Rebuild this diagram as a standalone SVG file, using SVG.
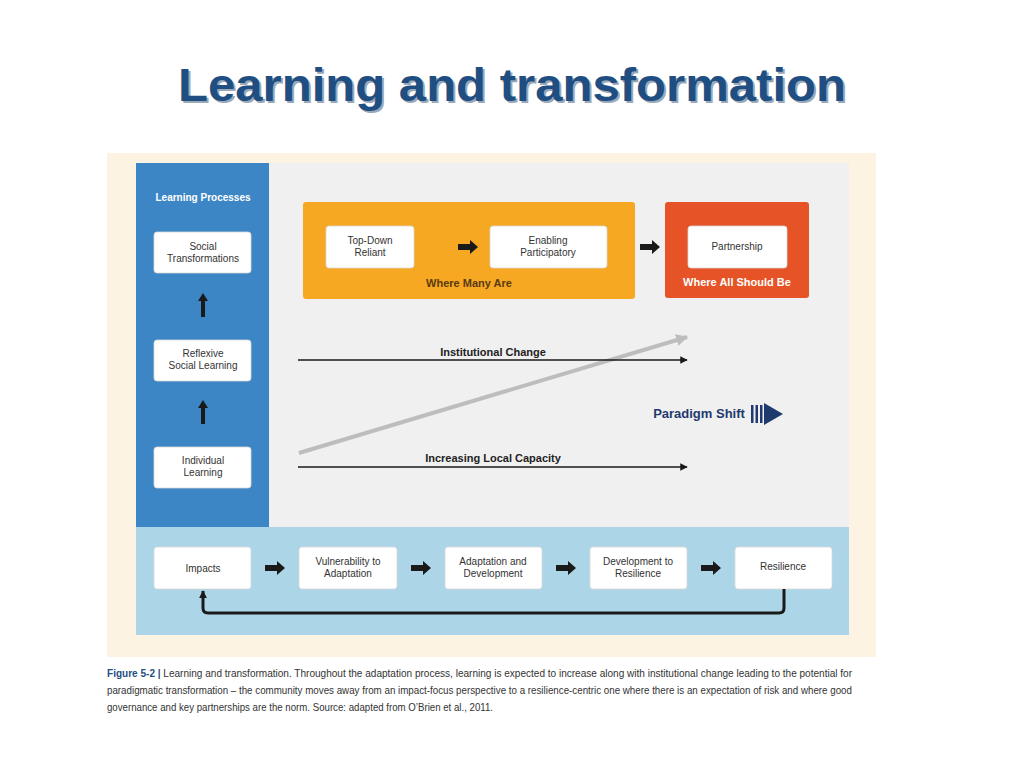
<svg xmlns="http://www.w3.org/2000/svg" width="1024" height="768" viewBox="0 0 1024 768">
<style>
text{font-family:"Liberation Sans",Arial,sans-serif}
.b{fill:#fff;stroke:#d8d8d8;stroke-width:0.8}
.t{font-size:10px;fill:#333;text-anchor:middle}
.blk{fill:#1a1a1a}
.ln{stroke:#1a1a1a;stroke-width:1.5;fill:none}
.cap{font-size:11px;fill:#333}
</style>
<defs>
<marker id="ah" viewBox="0 0 10 10" refX="9" refY="5" markerWidth="5" markerHeight="5" orient="auto"><path d="M0,0L10,5L0,10z" fill="#1a1a1a"/></marker>
<marker id="ah2" viewBox="0 0 10 10" refX="9" refY="5" markerWidth="8" markerHeight="8" markerUnits="userSpaceOnUse" orient="auto"><path d="M0,0L10,5L0,10z" fill="#1a1a1a"/></marker>
<marker id="ag" viewBox="0 0 10 10" refX="9" refY="5" markerWidth="3" markerHeight="3" orient="auto"><path d="M0,0L10,5L0,10z" fill="#bdbdbd"/></marker>
<path id="fat" d="M0,-3H12V-7L20,0L12,7V3H0z"/>
<path id="up" d="M-2,24V8H-5L0,0L5,8H2V24z"/>
</defs>
<rect width="1024" height="768" fill="#fff"/>
<text x="514" y="103" font-size="46" font-weight="bold" fill="#9aa8b8" text-anchor="middle" font-family="Open Sans,Liberation Sans,sans-serif" textLength="668" lengthAdjust="spacingAndGlyphs">Learning and transformation</text>
<text x="512" y="101" font-size="46" font-weight="bold" fill="#1f4e82" text-anchor="middle" font-family="Open Sans,Liberation Sans,sans-serif" textLength="668" lengthAdjust="spacingAndGlyphs">Learning and transformation</text>
<rect x="107" y="153" width="769" height="504" fill="#fdf3e3"/>
<rect x="136" y="163" width="713" height="364" fill="#f0f0f0"/>
<rect x="136" y="163" width="133" height="364" fill="#3d86c6"/>
<rect x="136" y="527" width="713" height="108" fill="#acd6e8"/>
<text x="203" y="201" font-size="10" font-weight="bold" fill="#fff" text-anchor="middle">Learning Processes</text>
<g id="social"><rect class="b" x="154" y="232" width="97" height="41" rx="3"/><text class="t" x="203" y="250">Social</text><text class="t" x="203" y="262">Transformations</text></g>
<g id="reflexive"><rect class="b" x="154" y="340" width="97" height="41" rx="3"/><text class="t" x="203" y="357">Reflexive</text><text class="t" x="203" y="369">Social Learning</text></g>
<g id="individual"><rect class="b" x="154" y="447" width="97" height="41" rx="3"/><text class="t" x="203" y="464">Individual</text><text class="t" x="203" y="476">Learning</text></g>
<g id="where-many"><rect x="303" y="202" width="332" height="97" rx="3" fill="#f7a823"/><text x="469" y="287" font-size="11" font-weight="bold" fill="#5a3a10" text-anchor="middle">Where Many Are</text></g>
<g id="topdown"><rect class="b" x="326" y="226" width="88" height="42" rx="3"/><text class="t" x="370" y="244">Top-Down</text><text class="t" x="370" y="256">Reliant</text></g>
<g id="enabling"><rect class="b" x="490" y="226" width="117" height="42" rx="3"/><text class="t" x="548" y="244">Enabling</text><text class="t" x="548" y="256">Participatory</text></g>
<g id="where-all"><rect x="665" y="202" width="144" height="96" rx="3" fill="#e55326"/><text x="737" y="286" font-size="11" font-weight="bold" fill="#fff" text-anchor="middle">Where All Should Be</text></g>
<g id="partnership"><rect class="b" x="688" y="226" width="99" height="42" rx="3"/><text class="t" x="737" y="250">Partnership</text></g>
<g id="impacts"><rect class="b" x="154" y="547" width="97" height="42" rx="3"/><text class="t" x="203" y="572">Impacts</text></g>
<g id="vuln"><rect class="b" x="299" y="547" width="98" height="42" rx="3"/><text class="t" x="348" y="565">Vulnerability to</text><text class="t" x="348" y="577">Adaptation</text></g>
<g id="adapt"><rect class="b" x="445" y="547" width="97" height="42" rx="3"/><text class="t" x="493" y="565">Adaptation and</text><text class="t" x="493" y="577">Development</text></g>
<g id="dev"><rect class="b" x="590" y="547" width="97" height="42" rx="3"/><text class="t" x="638" y="565">Development to</text><text class="t" x="638" y="577">Resilience</text></g>
<g id="res"><rect class="b" x="735" y="547" width="97" height="42" rx="3"/><text class="t" x="783" y="570">Resilience</text></g>
<g id="connectors">
<use href="#up" x="203" y="293" class="blk"/>
<use href="#up" x="203" y="400" class="blk"/>
<use href="#fat" x="458" y="247" class="blk"/>
<use href="#fat" x="640" y="247" class="blk"/>
<use href="#fat" x="265" y="568" class="blk"/>
<use href="#fat" x="411" y="568" class="blk"/>
<use href="#fat" x="556" y="568" class="blk"/>
<use href="#fat" x="701" y="568" class="blk"/>
<line x1="299" y1="453" x2="687" y2="337" stroke="#bdbdbd" stroke-width="4" marker-end="url(#ag)"/>
<line class="ln" x1="298" y1="360" x2="687" y2="360" marker-end="url(#ah)"/>
<line class="ln" x1="298" y1="467" x2="687" y2="467" marker-end="url(#ah)"/>
<path d="M784,589V608Q784,613 779,613H208Q203,613 203,608V591" stroke="#1a1a1a" stroke-width="3" fill="none" marker-end="url(#ah2)"/>
</g>
<text x="493" y="356" font-size="11" font-weight="bold" fill="#222" text-anchor="middle">Institutional Change</text>
<text x="493" y="462" font-size="11" font-weight="bold" fill="#222" text-anchor="middle">Increasing Local Capacity</text>
<g id="paradigm"><text x="699" y="418" font-size="13" font-weight="bold" fill="#1f3a6e" text-anchor="middle">Paradigm Shift</text>
<rect x="751" y="405" width="2.5" height="18" fill="#1f3a6e"/><rect x="755.5" y="405" width="2.5" height="18" fill="#1f3a6e"/><rect x="760" y="405" width="2.5" height="18" fill="#1f3a6e"/><path d="M764,403L783,414L764,425z" fill="#1f3a6e"/></g>
<text class="cap" x="107" y="677" textLength="745" lengthAdjust="spacingAndGlyphs"><tspan font-weight="bold" fill="#1f4e82">Figure 5-2 |</tspan> Learning and transformation. Throughout the adaptation process, learning is expected to increase along with institutional change leading to the potential for</text>
<text class="cap" x="107" y="694" textLength="745" lengthAdjust="spacingAndGlyphs">paradigmatic transformation – the community moves away from an impact-focus perspective to a resilience-centric one where there is an expectation of risk and where good</text>
<text class="cap" x="107" y="711" textLength="386" lengthAdjust="spacingAndGlyphs">governance and key partnerships are the norm. Source: adapted from O’Brien et al., 2011.</text>
</svg>
